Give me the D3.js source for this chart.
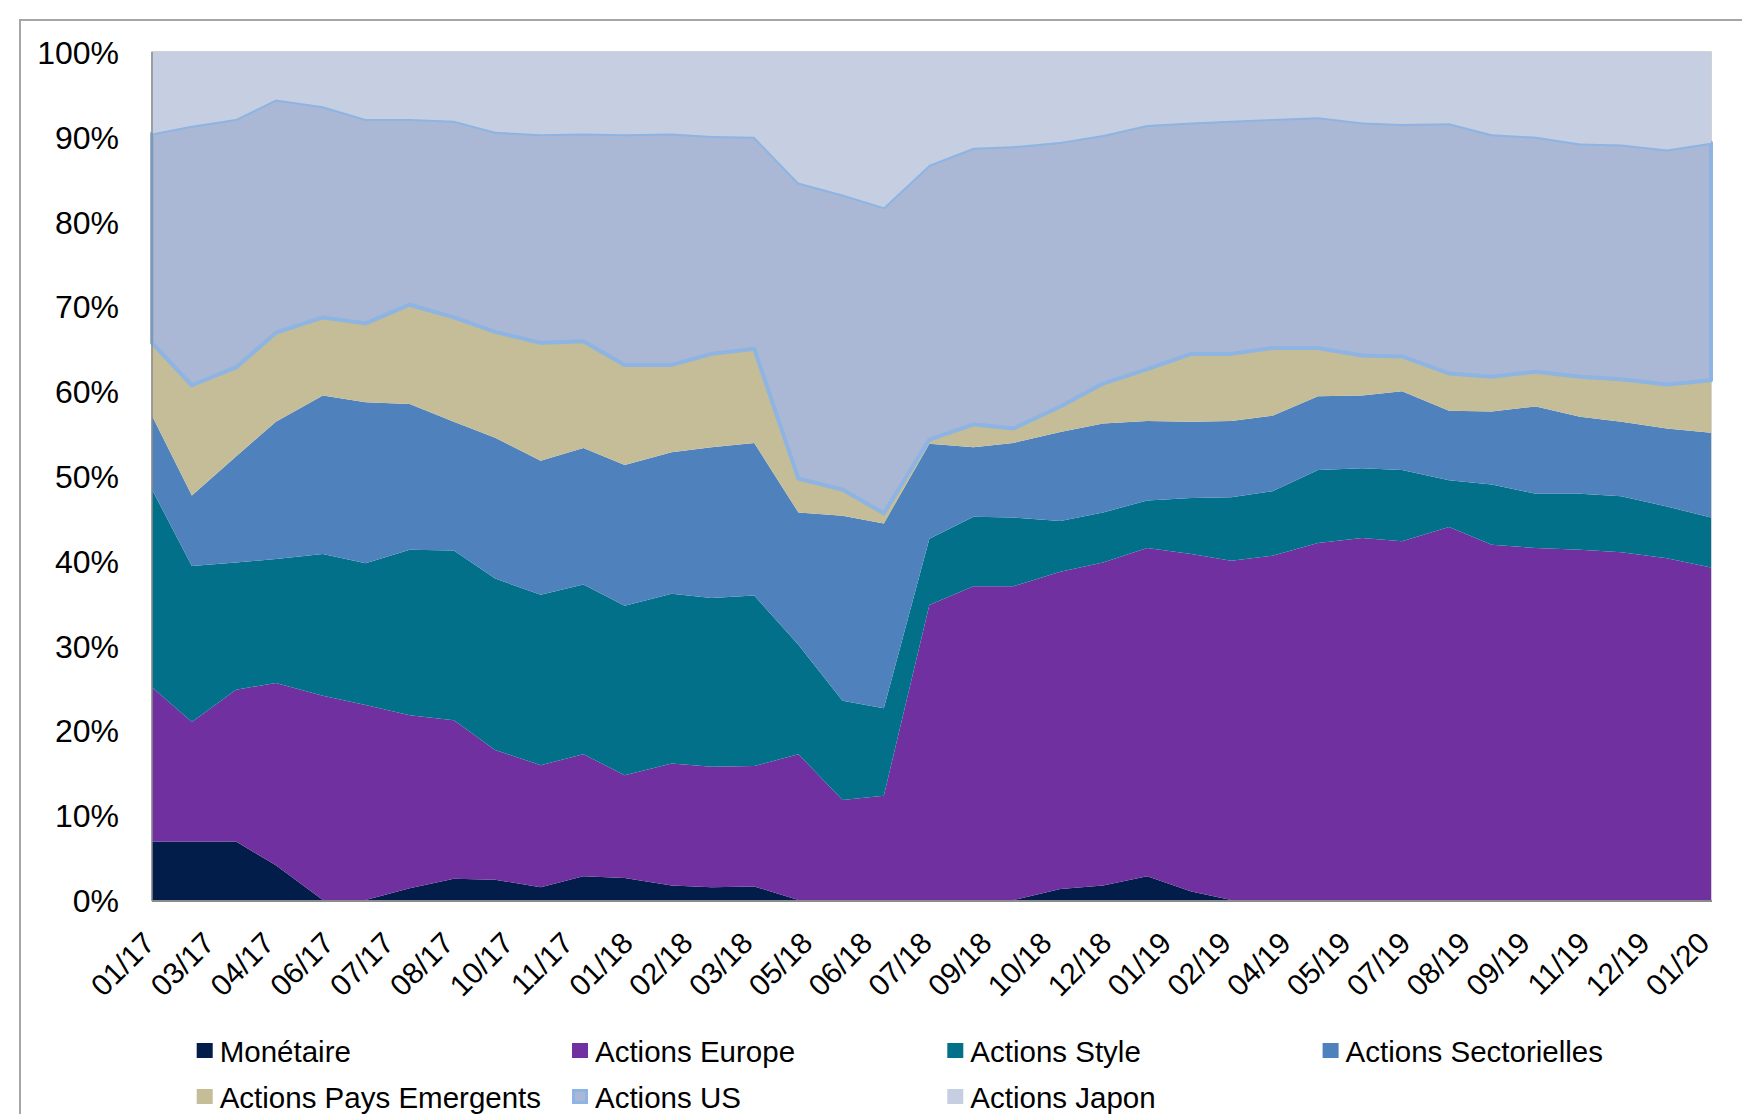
<!DOCTYPE html>
<html><head><meta charset="utf-8">
<script src="https://cdn.jsdelivr.net/npm/d3@7"></script>
<style>
html,body{margin:0;padding:0;background:#fff;}
svg{display:block;font-family:"Liberation Sans",Arial,Helvetica,sans-serif;}
</style>
</head><body>
<svg id="chart" width="1742" height="1114"></svg>
<script>
// ---- data ----
const dates = ["2017-01-31","2017-02-28","2017-03-31","2017-04-28","2017-05-31","2017-06-30","2017-07-31","2017-08-31","2017-09-29","2017-10-31","2017-11-30","2017-12-29",
"2018-01-31","2018-02-28","2018-03-30","2018-04-30","2018-05-31","2018-06-29","2018-07-31","2018-08-31","2018-09-28","2018-10-31","2018-11-30","2018-12-31",
"2019-01-31","2019-02-28","2019-03-29","2019-04-30","2019-05-31","2019-06-28","2019-07-31","2019-08-30","2019-09-30","2019-10-31","2019-11-29","2019-12-31",
"2020-01-31"];
const seriesNames = ["Monétaire","Actions Europe","Actions Style","Actions Sectorielles","Actions Pays Emergents","Actions US","Actions Japon"];
const monetaire = [6.9,6.9,6.9,4.1,0,0,1.4,2.5,2.4,1.5,2.8,2.6,1.7,1.5,1.6,0,0,0,0,0,0,1.3,1.7,2.8,1.0,0,0,0,0,0,0,0,0,0,0,0,0];
const europe = [18.2,14.1,17.9,21.5,24.1,23.0,20.4,18.7,15.3,14.4,14.4,12.1,14.4,14.2,14.2,17.2,11.8,12.3,34.8,37.0,37.0,37.4,38.1,38.7,39.8,40.0,40.6,42.1,42.7,42.3,44.0,41.9,41.5,41.3,41.0,40.3,39.2];
const style = [23.3,18.4,15.0,14.6,16.7,16.7,19.5,20.0,20.2,20.1,20.0,20.0,20.0,19.9,20.1,12.9,11.7,10.3,7.8,8.2,8.1,6.0,5.9,5.6,6.6,7.5,7.6,8.6,8.2,8.4,5.5,7.1,6.4,6.6,6.6,6.1,5.9];
const sectorielles = [8.7,8.3,12.5,16.2,18.7,19.0,17.2,15.2,16.6,15.8,16.1,16.6,16.7,17.8,18.0,15.6,21.8,21.8,11.2,8.2,8.8,10.5,10.5,9.4,9.0,9.0,8.9,8.7,8.6,9.3,8.2,8.6,10.3,9.1,8.8,9.2,10.0];
const emergents = [8.6,13.0,10.5,10.5,9.2,9.3,11.7,12.3,12.5,13.9,12.6,11.8,10.3,11.0,11.1,4.0,3.1,1.2,0.5,2.7,1.7,3.0,4.7,6.1,8.0,7.9,8.0,5.7,4.7,4.1,4.4,4.1,4.1,4.7,5.0,5.2,6.2];
const us = [24.7,30.6,29.3,27.5,24.9,24.1,21.9,23.2,23.6,24.6,24.5,27.2,27.3,25.7,25.0,34.9,34.8,36.1,32.4,32.6,33.3,31.2,29.3,28.8,27.3,27.5,27.0,27.2,27.5,27.4,29.5,28.6,27.7,27.5,27.7,27.7,28.0];
const japon = [9.6,8.7,7.9,5.6,6.4,7.9,7.9,8.1,9.4,9.7,9.6,9.7,9.6,9.9,10.0,15.4,16.8,18.3,13.3,11.3,11.1,10.6,9.8,8.6,8.3,8.1,7.9,7.7,8.3,8.5,8.4,9.7,10.0,10.8,10.9,11.5,10.7];
const tickLabels = ["01/17","03/17","04/17","06/17","07/17","08/17","10/17","11/17","01/18","02/18","03/18","05/18","06/18","07/18","09/18","10/18","12/18","01/19","02/19","04/19","05/19","07/19","08/19","09/19","11/19","12/19","01/20"];
const yTicks = [0,0.1,0.2,0.3,0.4,0.5,0.6,0.7,0.8,0.9,1.0];

// ---- styles ----
const fills = ["#021d4a","#7030a0","#03708a","#4f81bd","#c4bd97","#aab8d6","#c5cfe1"];
const usStroke = "#8db4e2";
const FONT = '"Liberation Sans", Arial, Helvetica, sans-serif';

const seriesValues = [monetaire, europe, style, sectorielles, emergents, us, japon];
const parse = d3.timeParse("%Y-%m-%d");
const rows = dates.map((d, i) => {
  const r = {date: parse(d)};
  seriesNames.forEach((n, k) => r[n] = seriesValues[k][i]);
  return r;
});

const L = 152, R = 1711, T = 52, B = 900;
const svg = d3.select("#chart");

// outer chart frame
svg.append("rect").attr("x", 20).attr("y", 20).attr("width", 1800).attr("height", 1200)
  .attr("fill", "#fff").attr("stroke", "#a6a6a6").attr("stroke-width", 2);

const x = d3.scaleTime().domain(d3.extent(rows, d => d.date)).range([L, R]);
const y = d3.scaleLinear().domain([0, 1]).range([B, T]);

// plot border
svg.append("rect").attr("x", L).attr("y", T).attr("width", R - L).attr("height", B - T)
  .attr("fill", "none").attr("stroke", "#c4c4c4").attr("stroke-width", 1.5);

const layers = d3.stack().keys(seriesNames).offset(d3.stackOffsetExpand)(rows);
const area = d3.area().x(d => x(d.data.date)).y0(d => y(d[0])).y1(d => y(d[1]));

svg.append("g").selectAll("path").data(layers).join("path")
  .attr("d", area)
  .attr("fill", (d, i) => fills[i])
  .attr("stroke", (d, i) => i === 5 ? usStroke : "none")
  .attr("stroke-width", (d, i) => i === 5 ? 4 : 0)
  .attr("stroke-linejoin", "round");

// axis lines
svg.append("line").attr("x1", L).attr("x2", L).attr("y1", T).attr("y2", B + 1)
  .attr("stroke", "#8c8c8c").attr("stroke-width", 1.5);
svg.append("line").attr("x1", L).attr("x2", R + 1).attr("y1", B + 1).attr("y2", B + 1)
  .attr("stroke", "#8c8c8c").attr("stroke-width", 2);

// y axis
const yAxis = svg.append("g").attr("transform", `translate(${L},0)`)
  .call(d3.axisLeft(y).tickValues(yTicks).tickFormat(d3.format(".0%")).tickSize(0).tickPadding(33));
yAxis.select(".domain").remove();
yAxis.selectAll("text").attr("font-size", 32).attr("font-family", FONT).attr("fill", "#000").attr("dy", "0.36em");

// x axis
const t0 = x.domain()[0];
const tickDates = tickLabels.map((l, k) => d3.timeDay.offset(t0, 42 * k));
const xAxis = svg.append("g").attr("transform", `translate(0,${B})`)
  .call(d3.axisBottom(x).tickValues(tickDates).tickFormat((d, i) => tickLabels[i]).tickSize(0));
xAxis.select(".domain").remove();
xAxis.selectAll("text")
  .attr("x", 0).attr("y", 0).attr("dy", 0)
  .attr("text-anchor", "end")
  .attr("transform", "translate(4,45) rotate(-45)")
  .attr("font-size", 30).attr("font-family", FONT).attr("fill", "#000");

// legend
const legend = svg.append("g");
seriesNames.forEach((n, i) => {
  const col = i < 4 ? i : i - 4;
  const row = i < 4 ? 0 : 1;
  const lx = 196.7 + 375.3 * col;
  const base = row === 0 ? 1062 : 1108;
  const g = legend.append("g");
  if (i === 5) {
    g.append("rect").attr("x", lx + 1.5).attr("y", base - 17.5).attr("width", 13).attr("height", 12)
      .attr("fill", fills[i]).attr("stroke", usStroke).attr("stroke-width", 3);
  } else {
    g.append("rect").attr("x", lx).attr("y", base - 19).attr("width", 16).attr("height", 15)
      .attr("fill", fills[i]);
  }
  g.append("text").attr("x", lx + 23).attr("y", base).text(n)
    .attr("font-size", 29.5).attr("font-family", FONT).attr("fill", "#000");
});
</script>
</body></html>
